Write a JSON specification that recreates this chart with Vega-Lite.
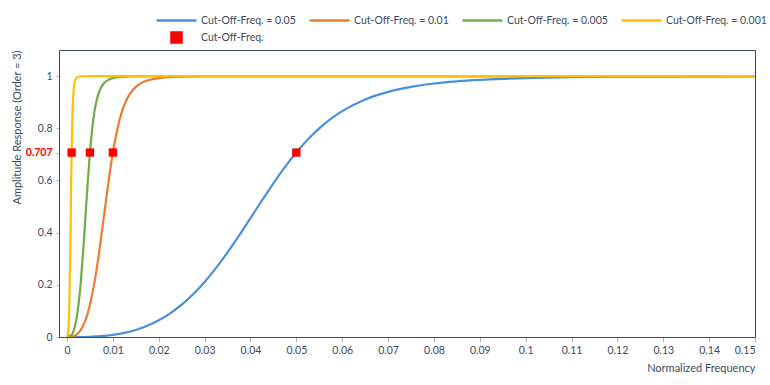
{
  "$schema": "https://vega.github.io/schema/vega-lite/v6.json",
  "width": 696,
  "height": 287,
  "autosize": "none",
  "padding": {"left": 59, "top": 50, "right": 15, "bottom": 48},
  "background": "white",
  "config": {
    "view": {"stroke": "#3d4a5c", "strokeWidth": 1},
    "font": "Lato",
    "axis": {"labelFont": "Lato", "titleFont": "Lato", "labelColor": "#3a4a5e", "titleColor": "#3a4a5e", "grid": false, "domainColor": "#3d4a5c", "tickColor": "#b0b8c4"},
    "legend": {"labelFont": "Lato", "labelColor": "#3a4a5e", "labelFontSize": 10.5, "padding": 0}
  },
  "datasets": {
    "curves": [
      {"s": "Cut-Off-Freq. = 0.05", "f": 0, "a": 0},
      {"s": "Cut-Off-Freq. = 0.05", "f": 0.0025, "a": 0.00002},
      {"s": "Cut-Off-Freq. = 0.05", "f": 0.005, "a": 0.001},
      {"s": "Cut-Off-Freq. = 0.05", "f": 0.0075, "a": 0.0034},
      {"s": "Cut-Off-Freq. = 0.05", "f": 0.01, "a": 0.008},
      {"s": "Cut-Off-Freq. = 0.05", "f": 0.0125, "a": 0.0156},
      {"s": "Cut-Off-Freq. = 0.05", "f": 0.015, "a": 0.027},
      {"s": "Cut-Off-Freq. = 0.05", "f": 0.0175, "a": 0.0428},
      {"s": "Cut-Off-Freq. = 0.05", "f": 0.02, "a": 0.0639},
      {"s": "Cut-Off-Freq. = 0.05", "f": 0.0225, "a": 0.0908},
      {"s": "Cut-Off-Freq. = 0.05", "f": 0.025, "a": 0.124},
      {"s": "Cut-Off-Freq. = 0.05", "f": 0.0275, "a": 0.1641},
      {"s": "Cut-Off-Freq. = 0.05", "f": 0.03, "a": 0.2111},
      {"s": "Cut-Off-Freq. = 0.05", "f": 0.0325, "a": 0.2648},
      {"s": "Cut-Off-Freq. = 0.05", "f": 0.035, "a": 0.3244},
      {"s": "Cut-Off-Freq. = 0.05", "f": 0.0375, "a": 0.3887},
      {"s": "Cut-Off-Freq. = 0.05", "f": 0.04, "a": 0.4557},
      {"s": "Cut-Off-Freq. = 0.05", "f": 0.0425, "a": 0.5233},
      {"s": "Cut-Off-Freq. = 0.05", "f": 0.045, "a": 0.5891},
      {"s": "Cut-Off-Freq. = 0.05", "f": 0.0475, "a": 0.6509},
      {"s": "Cut-Off-Freq. = 0.05", "f": 0.05, "a": 0.7071},
      {"s": "Cut-Off-Freq. = 0.05", "f": 0.0525, "a": 0.7568},
      {"s": "Cut-Off-Freq. = 0.05", "f": 0.055, "a": 0.7995},
      {"s": "Cut-Off-Freq. = 0.05", "f": 0.0575, "a": 0.8356},
      {"s": "Cut-Off-Freq. = 0.05", "f": 0.06, "a": 0.8655},
      {"s": "Cut-Off-Freq. = 0.05", "f": 0.065, "a": 0.9101},
      {"s": "Cut-Off-Freq. = 0.05", "f": 0.07, "a": 0.9395},
      {"s": "Cut-Off-Freq. = 0.05", "f": 0.075, "a": 0.9588},
      {"s": "Cut-Off-Freq. = 0.05", "f": 0.08, "a": 0.9715},
      {"s": "Cut-Off-Freq. = 0.05", "f": 0.085, "a": 0.9799},
      {"s": "Cut-Off-Freq. = 0.05", "f": 0.09, "a": 0.9856},
      {"s": "Cut-Off-Freq. = 0.05", "f": 0.095, "a": 0.9895},
      {"s": "Cut-Off-Freq. = 0.05", "f": 0.1, "a": 0.9923},
      {"s": "Cut-Off-Freq. = 0.05", "f": 0.11, "a": 0.9956},
      {"s": "Cut-Off-Freq. = 0.05", "f": 0.12, "a": 0.9974},
      {"s": "Cut-Off-Freq. = 0.05", "f": 0.135, "a": 0.9987},
      {"s": "Cut-Off-Freq. = 0.05", "f": 0.15, "a": 0.9993},

      {"s": "Cut-Off-Freq. = 0.01", "f": 0, "a": 0},
      {"s": "Cut-Off-Freq. = 0.01", "f": 0.001, "a": 0.001},
      {"s": "Cut-Off-Freq. = 0.01", "f": 0.002, "a": 0.008},
      {"s": "Cut-Off-Freq. = 0.01", "f": 0.003, "a": 0.027},
      {"s": "Cut-Off-Freq. = 0.01", "f": 0.004, "a": 0.0639},
      {"s": "Cut-Off-Freq. = 0.01", "f": 0.005, "a": 0.124},
      {"s": "Cut-Off-Freq. = 0.01", "f": 0.006, "a": 0.2111},
      {"s": "Cut-Off-Freq. = 0.01", "f": 0.007, "a": 0.3244},
      {"s": "Cut-Off-Freq. = 0.01", "f": 0.008, "a": 0.4557},
      {"s": "Cut-Off-Freq. = 0.01", "f": 0.009, "a": 0.5891},
      {"s": "Cut-Off-Freq. = 0.01", "f": 0.01, "a": 0.7071},
      {"s": "Cut-Off-Freq. = 0.01", "f": 0.011, "a": 0.7995},
      {"s": "Cut-Off-Freq. = 0.01", "f": 0.012, "a": 0.8655},
      {"s": "Cut-Off-Freq. = 0.01", "f": 0.013, "a": 0.9101},
      {"s": "Cut-Off-Freq. = 0.01", "f": 0.014, "a": 0.9395},
      {"s": "Cut-Off-Freq. = 0.01", "f": 0.015, "a": 0.9588},
      {"s": "Cut-Off-Freq. = 0.01", "f": 0.016, "a": 0.9715},
      {"s": "Cut-Off-Freq. = 0.01", "f": 0.017, "a": 0.9799},
      {"s": "Cut-Off-Freq. = 0.01", "f": 0.018, "a": 0.9856},
      {"s": "Cut-Off-Freq. = 0.01", "f": 0.02, "a": 0.9923},
      {"s": "Cut-Off-Freq. = 0.01", "f": 0.025, "a": 0.998},
      {"s": "Cut-Off-Freq. = 0.01", "f": 0.03, "a": 0.9993},
      {"s": "Cut-Off-Freq. = 0.01", "f": 0.04, "a": 0.9999},
      {"s": "Cut-Off-Freq. = 0.01", "f": 0.15, "a": 1},

      {"s": "Cut-Off-Freq. = 0.005", "f": 0, "a": 0},
      {"s": "Cut-Off-Freq. = 0.005", "f": 0.001, "a": 0.008},
      {"s": "Cut-Off-Freq. = 0.005", "f": 0.0015, "a": 0.027},
      {"s": "Cut-Off-Freq. = 0.005", "f": 0.002, "a": 0.0639},
      {"s": "Cut-Off-Freq. = 0.005", "f": 0.0025, "a": 0.124},
      {"s": "Cut-Off-Freq. = 0.005", "f": 0.003, "a": 0.2111},
      {"s": "Cut-Off-Freq. = 0.005", "f": 0.0035, "a": 0.3244},
      {"s": "Cut-Off-Freq. = 0.005", "f": 0.004, "a": 0.4557},
      {"s": "Cut-Off-Freq. = 0.005", "f": 0.0045, "a": 0.5891},
      {"s": "Cut-Off-Freq. = 0.005", "f": 0.005, "a": 0.7071},
      {"s": "Cut-Off-Freq. = 0.005", "f": 0.0055, "a": 0.7995},
      {"s": "Cut-Off-Freq. = 0.005", "f": 0.006, "a": 0.8655},
      {"s": "Cut-Off-Freq. = 0.005", "f": 0.0065, "a": 0.9101},
      {"s": "Cut-Off-Freq. = 0.005", "f": 0.007, "a": 0.9395},
      {"s": "Cut-Off-Freq. = 0.005", "f": 0.0075, "a": 0.9588},
      {"s": "Cut-Off-Freq. = 0.005", "f": 0.008, "a": 0.9715},
      {"s": "Cut-Off-Freq. = 0.005", "f": 0.009, "a": 0.9856},
      {"s": "Cut-Off-Freq. = 0.005", "f": 0.01, "a": 0.9923},
      {"s": "Cut-Off-Freq. = 0.005", "f": 0.0125, "a": 0.998},
      {"s": "Cut-Off-Freq. = 0.005", "f": 0.015, "a": 0.9993},
      {"s": "Cut-Off-Freq. = 0.005", "f": 0.02, "a": 0.9999},
      {"s": "Cut-Off-Freq. = 0.005", "f": 0.15, "a": 1},

      {"s": "Cut-Off-Freq. = 0.001", "f": 0, "a": 0},
      {"s": "Cut-Off-Freq. = 0.001", "f": 0.0003, "a": 0.027},
      {"s": "Cut-Off-Freq. = 0.001", "f": 0.0005, "a": 0.124},
      {"s": "Cut-Off-Freq. = 0.001", "f": 0.0007, "a": 0.3244},
      {"s": "Cut-Off-Freq. = 0.001", "f": 0.0008, "a": 0.4557},
      {"s": "Cut-Off-Freq. = 0.001", "f": 0.0009, "a": 0.5891},
      {"s": "Cut-Off-Freq. = 0.001", "f": 0.001, "a": 0.7071},
      {"s": "Cut-Off-Freq. = 0.001", "f": 0.0011, "a": 0.7995},
      {"s": "Cut-Off-Freq. = 0.001", "f": 0.0012, "a": 0.8655},
      {"s": "Cut-Off-Freq. = 0.001", "f": 0.0013, "a": 0.9101},
      {"s": "Cut-Off-Freq. = 0.001", "f": 0.0015, "a": 0.9588},
      {"s": "Cut-Off-Freq. = 0.001", "f": 0.0018, "a": 0.9856},
      {"s": "Cut-Off-Freq. = 0.001", "f": 0.002, "a": 0.9923},
      {"s": "Cut-Off-Freq. = 0.001", "f": 0.003, "a": 0.9993},
      {"s": "Cut-Off-Freq. = 0.001", "f": 0.005, "a": 1},
      {"s": "Cut-Off-Freq. = 0.001", "f": 0.15, "a": 1}
    ],
    "cutoffs": [
      {"s": "Cut-Off-Freq.", "f": 0.05, "a": 0.707},
      {"s": "Cut-Off-Freq.", "f": 0.01, "a": 0.707},
      {"s": "Cut-Off-Freq.", "f": 0.005, "a": 0.707},
      {"s": "Cut-Off-Freq.", "f": 0.001, "a": 0.707}
    ]
  },
  "encoding": {
    "x": {
      "field": "f", "type": "quantitative",
      "scale": {"domain": [-0.00175, 0.15], "nice": false, "zero": false},
      "axis": {
        "values": [0, 0.01, 0.02, 0.03, 0.04, 0.05, 0.06, 0.07, 0.08, 0.09, 0.1, 0.11, 0.12, 0.13, 0.14, 0.15],
        "format": ".2~f", "labelFontSize": 10.5, "tickSize": 5, "labelPadding": 3,
        "title": "Normalized Frequency", "titleAnchor": "end", "titleFontSize": 11, "titleFontWeight": "normal", "titlePadding": 7
      }
    },
    "y": {
      "field": "a", "type": "quantitative",
      "scale": {"domain": [0, 1.1], "nice": false},
      "axis": {
        "values": [0, 0.2, 0.4, 0.6, 0.707, 0.8, 1],
        "format": ".3~g", "labelFontSize": 10.5, "tickSize": 3, "labelPadding": 4,
        "labelColor": {"condition": {"test": "datum.value == 0.707", "value": "#ff0000"}, "value": "#3a4a5e"},
        "labelFontWeight": {"condition": {"test": "datum.value == 0.707", "value": "bold"}, "value": "normal"},
        "title": "Amplitude Response (Order = 3)", "titleAnchor": "end", "titleFontSize": 11, "titleFontWeight": "normal", "titlePadding": 3
      }
    },
    "color": {
      "field": "s", "type": "nominal",
      "scale": {
        "domain": ["Cut-Off-Freq. = 0.05", "Cut-Off-Freq. = 0.01", "Cut-Off-Freq. = 0.005", "Cut-Off-Freq. = 0.001", "Cut-Off-Freq."],
        "range": ["#4a90d9", "#ed7d31", "#70ad47", "#ffc000", "#ff0000"]
      },
      "legend": {
        "title": null, "orient": "none", "legendX": 111, "legendY": -36, "direction": "horizontal", "columns": 4,
        "symbolType": "square", "symbolSize": 100, "symbolStrokeWidth": 2.5, "labelOffset": 18, "columnPadding": 8, "rowPadding": 1,
        "encode": {
          "symbols": {
            "update": {
              "shape": {"signal": "datum.value == 'Cut-Off-Freq.' ? 'square' : 'M-4,0H4'"},
              "size": {"value": 100},
              "fill": {"signal": "datum.value == 'Cut-Off-Freq.' ? '#ff0000' : 'transparent'"},
              "stroke": {"signal": "datum.value == 'Cut-Off-Freq.' ? 'transparent' : scale('color', datum.value)"},
              "strokeWidth": {"value": 2.5},
              "opacity": {"value": 1},
              "fillOpacity": {"value": 1},
              "strokeOpacity": {"value": 1}
            }
          }
        }
      }
    }
  },
  "layer": [
    {
      "data": {"name": "curves"},
      "mark": {"type": "line", "strokeWidth": 2.2, "interpolate": "monotone", "clip": true}
    },
    {
      "data": {"name": "cutoffs"},
      "mark": {"type": "point", "shape": "square", "filled": true, "size": 70, "opacity": 1}
    }
  ]
}
